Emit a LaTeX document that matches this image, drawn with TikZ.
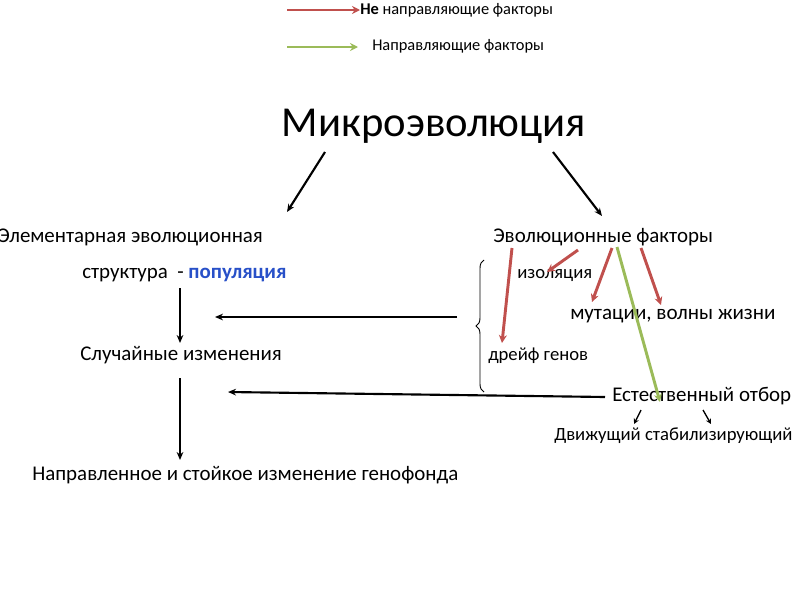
\documentclass[tikz,border=0pt]{standalone}
\usepackage{fontspec}
\setmainfont{Carlito}
\usetikzlibrary{arrows.meta,decorations.pathreplacing}
\definecolor{nfred}{RGB}{192,80,77}
\definecolor{fgreen}{RGB}{155,187,89}
\definecolor{popblue}{RGB}{40,80,200}
\tikzset{
  txt/.style={inner sep=0pt, anchor=west, font=\fontsize{15.7}{18}\selectfont},
  lgd/.style={inner sep=0pt, anchor=west, font=\fontsize{12.3}{14}\selectfont},
  blk/.style={-{Stealth[length=6pt,width=5pt]}, line width=1.6pt},
  redarr/.style={-{Stealth[length=6pt,width=6pt]}, line width=2.2pt, nfred},
  grnarr/.style={-{Stealth[length=6pt,width=6pt]}, line width=2.2pt, fgreen},
  small/.style={-{Stealth[length=4pt,width=4pt]}, line width=1pt}
}
\begin{document}
\begin{tikzpicture}[x=0.75pt,y=-0.75pt]
  \useasboundingbox (0,0) rectangle (800,600);

  % Legend
  \node[lgd] (lnf) at (360,10) {\textbf{Не} направляющие факторы};
  \node[lgd] (lf) at (372,46) {Направляющие факторы};
  \coordinate (lnfs) at (287,10);
  \coordinate (lfs) at (287,47);
  \coordinate (lfe) at (358,47);
  \draw[redarr] (lnfs) -- (lnf.west);
  \draw[grnarr] (lfs) -- (lfe);

  % Title
  \node[inner sep=0pt, font=\fontsize{32}{36}\selectfont] (micro) at (434,126) {Микроэволюция};
  \coordinate (ml) at (325,152);
  \coordinate (mr) at (553,152);
  \coordinate (eel) at (287,212);
  \coordinate (efr) at (602,216);
  \draw[blk] (ml) -- (eel);
  \draw[blk] (mr) -- (efr);

  % Left column
  \node[txt] (elem) at (-2,237) {Элементарная эволюционная};
  \node[txt] (struct) at (82,275) {структура \ - \textcolor{popblue}{\textbf{популяция}}};
  \node[txt] (sluch) at (80,355) {Случайные изменения};
  \node[txt] (napr) at (32,475) {Направленное и стойкое изменение генофонда};
  \coordinate (s1) at (180,288);
  \coordinate (s2) at (180,343);
  \coordinate (s3) at (180,378);
  \coordinate (s4) at (180,460);
  \draw[blk] (s1) -- (s2);
  \draw[blk] (s3) -- (s4);

  % Right column
  \node[txt] (evf) at (493,237) {Эволюционные факторы};
  \node[txt, font=\fontsize{14}{16}\selectfont] (izol) at (517,276) {изоляция};
  \node[txt, font=\fontsize{15.8}{18}\selectfont] (mut) at (570,316) {мутации, волны жизни};
  \node[txt, font=\fontsize{14}{16}\selectfont] (dreif) at (488,356) {дрейф генов};
  \node[txt] (otbor) at (612,396) {Естественный отбор};
  \node[txt, font=\fontsize{14}{16}\selectfont] (dviz) at (554,436) {Движущий стабилизирующий};

  % Brace and horizontal arrows
  \draw[line width=0.7pt, decorate, decoration={brace, amplitude=6pt}]
    (484,392) -- (484,260);
  \coordinate (h1r) at (457,317);
  \coordinate (h1l) at (215,317);
  \coordinate (h2r) at (605,397);
  \coordinate (h2l) at (228,392);
  \draw[blk] (h1r) -- (h1l);
  \draw[blk] (h2r) -- (h2l);

  % Factor arrows
  \coordinate (f1) at (512,248);
  \coordinate (f2) at (578,250);
  \coordinate (f3) at (612,248);
  \coordinate (f4) at (641,248);
  \coordinate (f5) at (617,247);
  \coordinate (t1) at (502,343);
  \coordinate (t2) at (547,272);
  \coordinate (t3) at (592,302);
  \coordinate (t4) at (661,305);
  \coordinate (t5) at (660,402);
  \draw[redarr] (f1) -- (t1);
  \draw[redarr] (f2) -- (t2);
  \draw[redarr] (f3) -- (t3);
  \draw[redarr] (f4) -- (t4);
  \draw[grnarr] (f5) -- (t5);

  % Selection forms
  \coordinate (o1) at (641,410);
  \coordinate (o2) at (703,410);
  \coordinate (d1) at (634,424);
  \coordinate (d2) at (711,424);
  \draw[small] (o1) -- (d1);
  \draw[small] (o2) -- (d2);
\end{tikzpicture}
\end{document}
